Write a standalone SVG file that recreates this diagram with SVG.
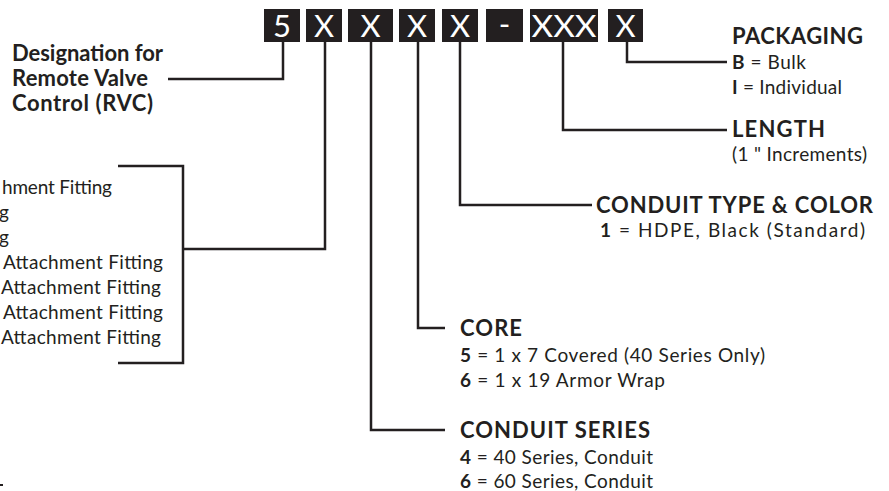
<svg xmlns="http://www.w3.org/2000/svg" width="889" height="491" viewBox="0 0 889 491">
<style>
  .box{fill:#231f20;}
  .bt{fill:#ffffff;font-family:Lato,"Open Sans",sans-serif;font-size:31px;text-anchor:middle;}
  .h{fill:#231f20;font-family:Lato,"Open Sans",sans-serif;font-size:22px;font-weight:bold;}
  .t{fill:#231f20;font-family:Lato,"Open Sans",sans-serif;font-size:19px;}
  .b{font-weight:bold;}
  .ln{fill:none;stroke:#231f20;stroke-width:2.5;}
</style>
<rect width="889" height="491" fill="#ffffff"/>
<g id="code">
  <g id="box-5"><rect class="box" x="264" y="9" width="36" height="33"/><text class="bt" x="282" y="37">5</text></g>
  <g id="box-x1"><rect class="box" x="306" y="9" width="36" height="33"/><text class="bt" x="324" y="37">X</text></g>
  <g id="box-x2"><rect class="box" x="348" y="9" width="45" height="33"/><text class="bt" x="370.5" y="37">X</text></g>
  <g id="box-x3"><rect class="box" x="399" y="9" width="36" height="33"/><text class="bt" x="417" y="37">X</text></g>
  <g id="box-x4"><rect class="box" x="442" y="9" width="36" height="33"/><text class="bt" x="460" y="37">X</text></g>
  <g id="box-dash"><rect class="box" x="486" y="9" width="37" height="33"/><text class="bt" x="504.5" y="35">-</text></g>
  <g id="box-xxx"><rect class="box" x="530" y="9" width="68" height="33"/><text class="bt" x="564" y="37" textLength="65" lengthAdjust="spacingAndGlyphs">XXX</text></g>
  <g id="box-x5"><rect class="box" x="608" y="9" width="35" height="33"/><text class="bt" x="625.5" y="37">X</text></g>
</g>
<g id="connectors">
  <path class="ln" d="M168,79 H283 V42"/>
  <path class="ln" d="M325,42 V249 H183"/>
  <path class="ln" d="M118,166 H183 V363 H118"/>
  <path class="ln" d="M371,42 V430 H445"/>
  <path class="ln" d="M418,42 V328 H445"/>
  <path class="ln" d="M460,42 V205 H592"/>
  <path class="ln" d="M563,42 V130 H727"/>
  <path class="ln" d="M627,42 V62 H727"/>
</g>
<g id="designation">
  <text class="h" x="12" y="61" textLength="151">Designation for</text>
  <text class="h" x="12" y="86" textLength="136">Remote Valve</text>
  <text class="h" x="12" y="111" textLength="141">Control (RVC)</text>
</g>
<g id="attachment">
  <text class="t" x="2" y="194" textLength="110">hment Fitting</text>
  <text class="t" x="9" y="219" text-anchor="end">g</text>
  <text class="t" x="9" y="244" text-anchor="end">g</text>
  <text class="t" x="163" y="269" text-anchor="end" textLength="160">Attachment Fitting</text>
  <text class="t" x="161" y="294" text-anchor="end" textLength="160">Attachment Fitting</text>
  <text class="t" x="163" y="319" text-anchor="end" textLength="160">Attachment Fitting</text>
  <text class="t" x="161" y="344" text-anchor="end" textLength="160">Attachment Fitting</text>
</g>
<g id="packaging">
  <text class="h" x="732" y="44" textLength="131">PACKAGING</text>
  <text class="t" x="732" y="69" textLength="74"><tspan class="b">B</tspan> = Bulk</text>
  <text class="t" x="732" y="94" textLength="110"><tspan class="b">I</tspan> = Individual</text>
</g>
<g id="length">
  <text class="h" x="732" y="137" textLength="93">LENGTH</text>
  <text class="t" x="732" y="161" textLength="135">(1 " Increments)</text>
</g>
<g id="conduit-type">
  <text class="h" x="596" y="213" textLength="277">CONDUIT TYPE &amp; COLOR</text>
  <text class="t" x="600" y="237" textLength="265"><tspan class="b">1</tspan> = HDPE, Black (Standard)</text>
</g>
<g id="core">
  <text class="h" x="460" y="336" textLength="62">CORE</text>
  <text class="t" x="460" y="362" textLength="305"><tspan class="b">5</tspan> = 1 x 7 Covered (40 Series Only)</text>
  <text class="t" x="460" y="387" textLength="205"><tspan class="b">6</tspan> = 1 x 19 Armor Wrap</text>
</g>
<g id="conduit-series">
  <text class="h" x="460" y="438" textLength="190">CONDUIT SERIES</text>
  <text class="t" x="460" y="464" textLength="193"><tspan class="b">4</tspan> = 40 Series, Conduit</text>
  <text class="t" x="460" y="488" textLength="193"><tspan class="b">6</tspan> = 60 Series, Conduit</text>
</g>
<rect x="0" y="484" width="3" height="2" fill="#231f20"/>
</svg>
